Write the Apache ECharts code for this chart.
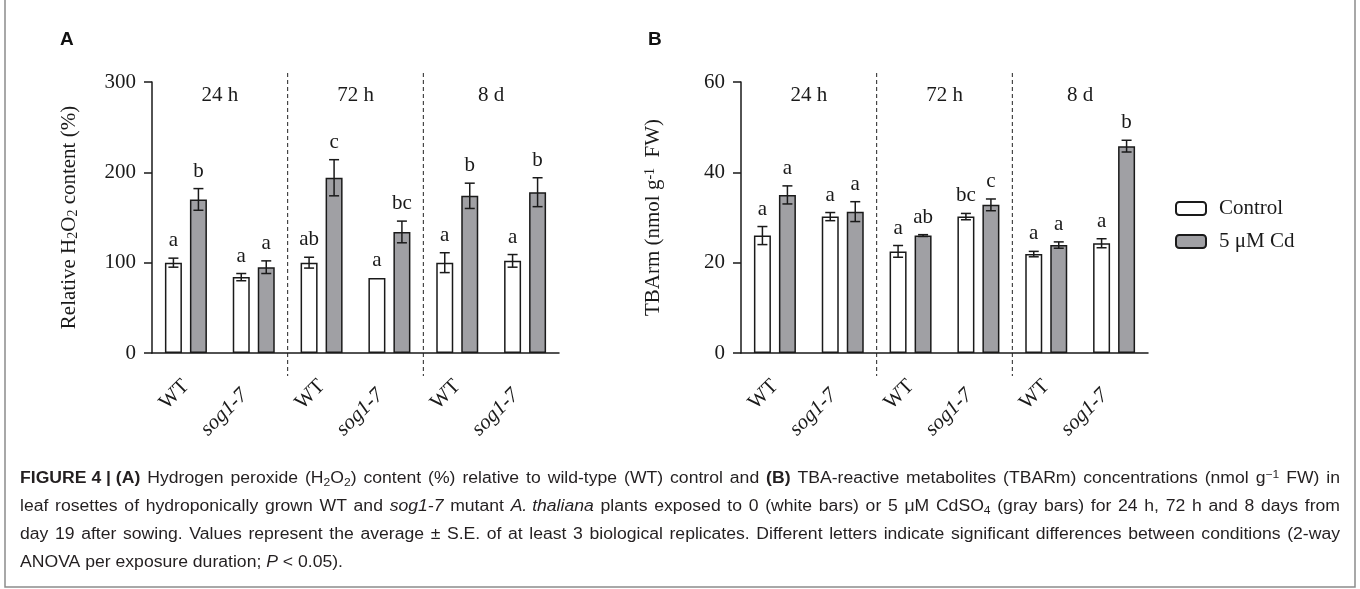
<!DOCTYPE html>
<html>
<head>
<meta charset="utf-8">
<script src="https://cdn.jsdelivr.net/npm/echarts@6/dist/echarts.min.js"></script>
<style>
  html, body { margin: 0; padding: 0; background: #fff; }
  #chart { width: 1360px; height: 589px; }
</style>
</head>
<body>
<div id="chart"></div>
<script>
const categories = ['WT', 'sog1-7', 'WT', 'sog1-7', 'WT', 'sog1-7'];
const groupLabels = ['24 h', '72 h', '8 d'];
const seriesNames = ['Control', '5 μM Cd'];

// panel A - relative H2O2 content (%)
const h2o2Control = [100, 84, 100, 83, 100, 102];
const h2o2ControlErr = [5, 4, 6, 0, 11, 7];
const h2o2ControlLetters = ['a', 'a', 'ab', 'a', 'a', 'a'];
const h2o2Cd = [170, 95, 194, 134, 174, 178];
const h2o2CdErr = [12, 7, 20, 12, 14, 16];
const h2o2CdLetters = ['b', 'a', 'c', 'bc', 'b', 'b'];

// panel B - TBArm (nmol g-1 FW)
const tbaControl = [26, 30.2, 22.5, 30.2, 21.9, 24.3];
const tbaControlErr = [2, 0.9, 1.3, 0.7, 0.6, 1];
const tbaControlLetters = ['a', 'a', 'a', 'bc', 'a', 'a'];
const tbaCd = [35, 31.3, 26, 32.8, 23.9, 45.8];
const tbaCdErr = [2, 2.2, 0.2, 1.3, 0.7, 1.3];
const tbaCdLetters = ['a', 'a', 'ab', 'c', 'a', 'b'];

const SERIF = '"Liberation Serif", "Times New Roman", serif';
const SANS = '"Liberation Sans", Arial, sans-serif';
const INK = '#1a1a1a';
const BAR_W = 17;
const BAR_GAP = 8;
const SHIFT = (BAR_W + BAR_GAP) / 2;

const chart = echarts.init(document.getElementById('chart'));

function xAxisFor(gridIndex) {
  return {
    type: 'category',
    gridIndex: gridIndex,
    data: categories,
    axisLine: { lineStyle: { color: INK, width: 1.5 } },
    axisTick: { alignWithLabel: true, length: 8, lineStyle: { color: INK, width: 1.5 } },
    axisLabel: {
      rotate: 45,
      margin: 30,
      formatter: (v) => v === 'WT' ? '{n|WT}' : '{i|' + v + '}',
      rich: {
        n: { fontFamily: SERIF, fontSize: 21, color: INK },
        i: { fontFamily: SERIF, fontSize: 21, fontStyle: 'italic', color: INK, padding: [0, 13, 0, 0] }
      }
    }
  };
}

function yAxisFor(gridIndex, max, interval, name, nameGap) {
  return {
    type: 'value',
    gridIndex: gridIndex,
    min: 0,
    max: max,
    interval: interval,
    name: name,
    nameLocation: 'middle',
    nameGap: nameGap,
    nameRotate: 90,
    nameTextStyle: {
      fontFamily: SERIF, fontSize: 21, color: INK,
      rich: {
        sub: { fontFamily: SERIF, fontSize: 14, color: INK, verticalAlign: 'bottom', lineHeight: 10 },
        sup: { fontFamily: SERIF, fontSize: 14, color: INK, verticalAlign: 'top', lineHeight: 10 }
      }
    },
    axisLine: { show: true, lineStyle: { color: INK, width: 1.5 } },
    axisTick: { show: true, length: 8, lineStyle: { color: INK, width: 1.5 } },
    axisLabel: { margin: 16, fontFamily: SERIF, fontSize: 21, color: INK },
    splitLine: { show: false }
  };
}

function barSeries(name, gridIndex, values, fill) {
  return {
    type: 'bar',
    name: name,
    xAxisIndex: gridIndex,
    yAxisIndex: gridIndex,
    data: values,
    barWidth: BAR_W,
    barGap: (BAR_GAP / BAR_W * 100) + '%',
    itemStyle: { color: fill, borderColor: INK, borderWidth: 1.5 }
  };
}

function errorSeries(gridIndex, values, errs, letters, shift) {
  return {
    type: 'custom',
    name: 'err' + gridIndex + shift,
    xAxisIndex: gridIndex,
    yAxisIndex: gridIndex,
    silent: true,
    z: 5,
    data: values.map((v, i) => [i, v, errs[i]]),
    renderItem: function (params, api) {
      const i = api.value(0), v = api.value(1), e = api.value(2);
      const x = api.coord([i, v])[0] + shift;
      const yHi = api.coord([i, v + e])[1];
      const yLo = api.coord([i, v - e])[1];
      const st = { stroke: INK, lineWidth: 1.5 };
      const kids = [];
      if (e > 0) {
        kids.push({ type: 'line', shape: { x1: x, y1: yHi, x2: x, y2: yLo }, style: st });
        kids.push({ type: 'line', shape: { x1: x - 5, y1: yHi, x2: x + 5, y2: yHi }, style: st });
        kids.push({ type: 'line', shape: { x1: x - 5, y1: yLo, x2: x + 5, y2: yLo }, style: st });
      }
      kids.push({
        type: 'text',
        style: {
          text: letters[params.dataIndex], x: x, y: yHi - 7,
          align: 'center', verticalAlign: 'bottom',
          fontFamily: SERIF, fontSize: 21, fill: INK
        }
      });
      return { type: 'group', children: kids };
    }
  };
}

// dashed separators + time labels for each panel
function groupSeries(gridIndex) {
  return {
    type: 'custom',
    name: 'groups' + gridIndex,
    xAxisIndex: gridIndex,
    yAxisIndex: gridIndex,
    silent: true,
    data: [[0, 0], [2, 0], [4, 0]],
    renderItem: function (params, api) {
      const i = api.value(0);
      const a = api.coord([i, 0]);
      const b = api.coord([i + 1, 0]);
      const top = params.coordSys.y;
      const kids = [{
        type: 'text',
        style: {
          text: groupLabels[params.dataIndex], x: (a[0] + b[0]) / 2, y: top + 13,
          align: 'center', verticalAlign: 'middle',
          fontFamily: SERIF, fontSize: 21, fill: INK
        }
      }];
      if (i > 0) {
        const prev = api.coord([i - 1, 0]);
        const xs = (prev[0] + a[0]) / 2;
        kids.push({
          type: 'line',
          shape: { x1: xs, y1: top - 9, x2: xs, y2: a[1] + 23 },
          style: { stroke: '#222', lineWidth: 1, lineDash: [4, 3] }
        });
      }
      return { type: 'group', children: kids };
    }
  };
}

const CAP = '#231f20';
const CAP_SIZE = 16;
const captionRich = {
  b: { fontFamily: SANS, fontSize: CAP_SIZE, fontWeight: 'bold', color: CAP },
  i: { fontFamily: SANS, fontSize: CAP_SIZE, fontStyle: 'italic', color: CAP },
  sub: { fontFamily: SANS, fontSize: 11, color: CAP, verticalAlign: 'bottom', lineHeight: 8 },
  sup: { fontFamily: SANS, fontSize: 11, color: CAP, verticalAlign: 'top', lineHeight: 8 }
};
const captionLines = [
  '{b|FIGURE 4 | (A)} Hydrogen peroxide (H{sub|2}O{sub|2}) content (%) relative to wild-type (WT) control and {b|(B)} TBA-reactive metabolites (TBARm) concentrations (nmol g{sup|−1} FW) in',
  'leaf rosettes of hydroponically grown WT and {i|sog1-7} mutant {i|A. thaliana} plants exposed to 0 (white bars) or 5 μM CdSO{sub|4} (gray bars) for 24 h, 72 h and 8 days from',
  'day 19 after sowing. Values represent the average ± S.E. of at least 3 biological replicates. Different letters indicate significant differences between conditions (2-way',
  'ANOVA per exposure duration; {i|P} < 0.05).'
];
const captionJustify = [true, true, true, false];
const CAP_STRETCH = 1.1;
const CAP_WIDTH = 1320;

// justify caption lines by widening the spaces (like the printed page)
const measureCtx = document.createElement('canvas').getContext('2d');
function fontOf(style) {
  const r = captionRich[style] || {};
  return (r.fontStyle || '') + ' ' + (r.fontWeight || '') + ' ' + (r.fontSize || CAP_SIZE) + 'px ' + SANS;
}
function justify(line) {
  const re = /\{(\w+)\|([^}]*)\}|([^{]+)/g;
  const parts = [];
  let m, total = 0, spaces = 0;
  while ((m = re.exec(line))) {
    const style = m[1] || null;
    const text = m[1] ? m[2] : m[3];
    measureCtx.font = fontOf(style);
    total += measureCtx.measureText(text).width;
    if (!style) spaces += (text.match(/ /g) || []).length;
    parts.push({ style, text });
  }
  measureCtx.font = fontOf(null);
  const spaceW = measureCtx.measureText(' ').width;
  const extra = Math.max(0, (CAP_WIDTH / CAP_STRETCH - total) / Math.max(spaces, 1));
  const rich = Object.assign({}, captionRich, {
    sp: { fontFamily: SANS, fontSize: CAP_SIZE, width: spaceW + extra }
  });
  const text = parts.map(p => p.style
    ? '{' + p.style + '|' + p.text + '}'
    : p.text.split(' ').join('{sp| }')).join('');
  return { text, rich };
}

const captionGraphics = captionLines.map((line, k) => {
  const j = captionJustify[k] ? justify(line) : { text: line, rich: captionRich };
  return {
    type: 'text',
    x: 20,
    y: 479 + k * 28,
    scaleX: CAP_STRETCH,
    style: {
      text: j.text,
      x: 0, y: 0,
      verticalAlign: 'middle',
      fontFamily: SANS, fontSize: CAP_SIZE, fill: CAP,
      lineHeight: 19,
      rich: j.rich
    }
  };
});

const option = {
  animation: false,
  backgroundColor: '#fff',
  grid: [
    { left: 152, top: 82, width: 407, height: 271 },
    { left: 741, top: 82, width: 407, height: 271 }
  ],
  xAxis: [xAxisFor(0), xAxisFor(1)],
  yAxis: [
    yAxisFor(0, 300, 100, 'Relative H{sub|2}O{sub|2} content (%)', 72),
    yAxisFor(1, 60, 20, 'TBArm (nmol g{sup|-1}  FW)', 77)
  ],
  legend: {
    data: seriesNames,
    orient: 'vertical',
    left: 1170,
    top: 193,
    itemWidth: 30,
    itemHeight: 13,
    itemGap: 12,
    textStyle: { fontFamily: SERIF, fontSize: 21, color: INK, padding: [0, 0, 0, 8] }
  },
  series: [
    barSeries(seriesNames[0], 0, h2o2Control, '#ffffff'),
    barSeries(seriesNames[1], 0, h2o2Cd, '#a0a0a4'),
    barSeries(seriesNames[0], 1, tbaControl, '#ffffff'),
    barSeries(seriesNames[1], 1, tbaCd, '#a0a0a4'),
    errorSeries(0, h2o2Control, h2o2ControlErr, h2o2ControlLetters, -SHIFT),
    errorSeries(0, h2o2Cd, h2o2CdErr, h2o2CdLetters, SHIFT),
    errorSeries(1, tbaControl, tbaControlErr, tbaControlLetters, -SHIFT),
    errorSeries(1, tbaCd, tbaCdErr, tbaCdLetters, SHIFT),
    groupSeries(0),
    groupSeries(1)
  ],
  graphic: [
    {
      type: 'polyline', silent: true,
      shape: { points: [[5, 0], [5, 587], [1355, 587], [1355, 0]] },
      style: { fill: 'none', stroke: '#8c8c8c', lineWidth: 1.5 }
    },
    { type: 'text', left: 60, top: 30, style: { text: 'A', font: 'bold 19px ' + SANS, fill: '#111' } },
    { type: 'text', left: 648, top: 30, style: { text: 'B', font: 'bold 19px ' + SANS, fill: '#111' } }
  ].concat(captionGraphics)
};

chart.setOption(option);
window.addEventListener('resize', function () {
  chart.resize();
});
</script>
</body>
</html>
